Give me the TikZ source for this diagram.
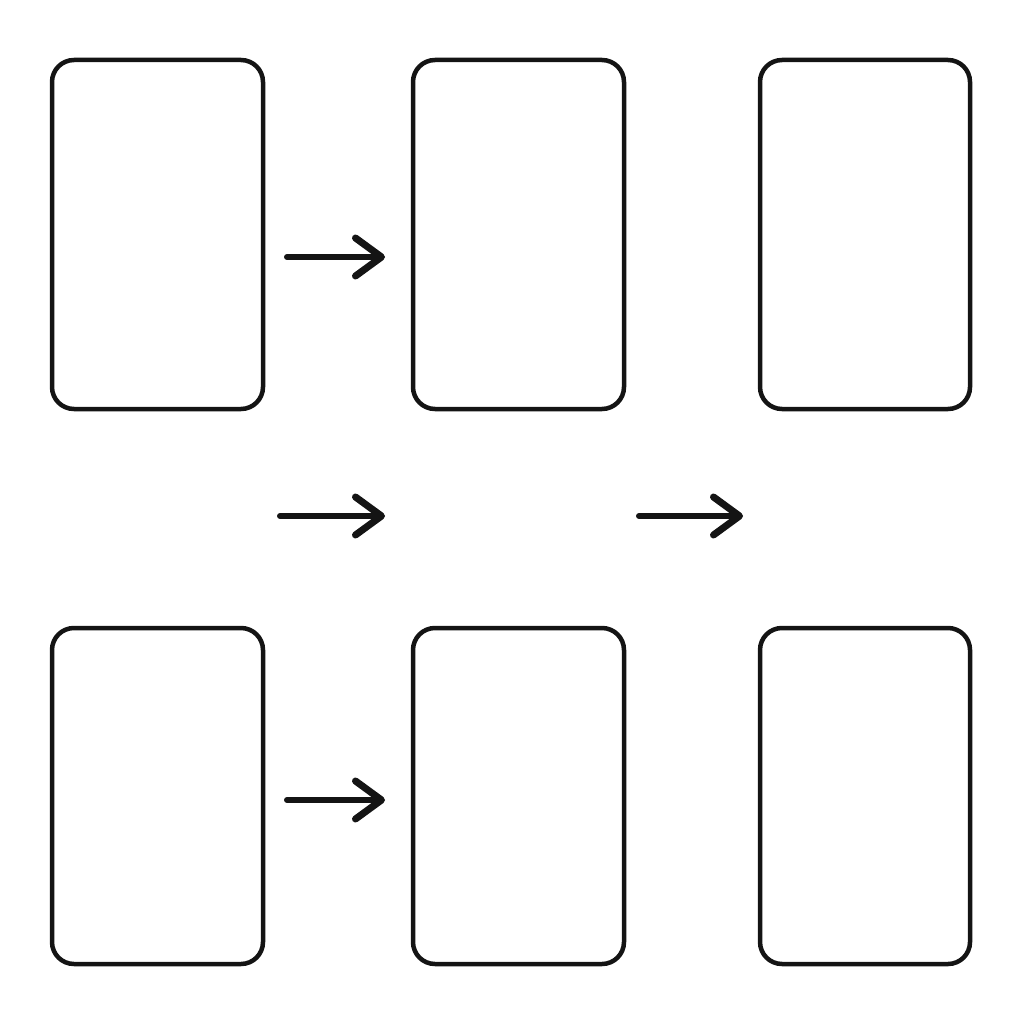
\documentclass[tikz,border=0pt]{standalone}
\usetikzlibrary{arrows.meta}
\begin{document}
\begin{tikzpicture}[x=1pt,y=-1pt,
  card/.style={draw=black!92,line width=4.5pt,rounded corners=22pt},
  arr/.style={line width=6pt,line cap=round,black!92,
    -{Straight Barb[length=26pt,width=38pt,line width=7pt,line join=round,line cap=round]}}]
\useasboundingbox (0,0) rectangle (1024,1024);
\draw[card] (52,60) rectangle (263,409) node[pos=.5](b1){};
\draw[card] (413,60) rectangle (624,409) node[pos=.5](b2){};
\draw[card] (760,60) rectangle (970,409) node[pos=.5](b3){};
\draw[card] (52,628) rectangle (263,964) node[pos=.5](b4){};
\draw[card] (413,628) rectangle (624,964) node[pos=.5](b5){};
\draw[card] (760,628) rectangle (970,964) node[pos=.5](b6){};
\coordinate (a1s) at (287,257); \coordinate (a1e) at (385,257);
\coordinate (a2s) at (280,516); \coordinate (a2e) at (385,516);
\coordinate (a3s) at (639,516); \coordinate (a3e) at (743,516);
\coordinate (a4s) at (287,800); \coordinate (a4e) at (385,800);
\draw[arr] (a1s) -- (a1e);
\draw[arr] (a2s) -- (a2e);
\draw[arr] (a3s) -- (a3e);
\draw[arr] (a4s) -- (a4e);
\end{tikzpicture}
\end{document}
